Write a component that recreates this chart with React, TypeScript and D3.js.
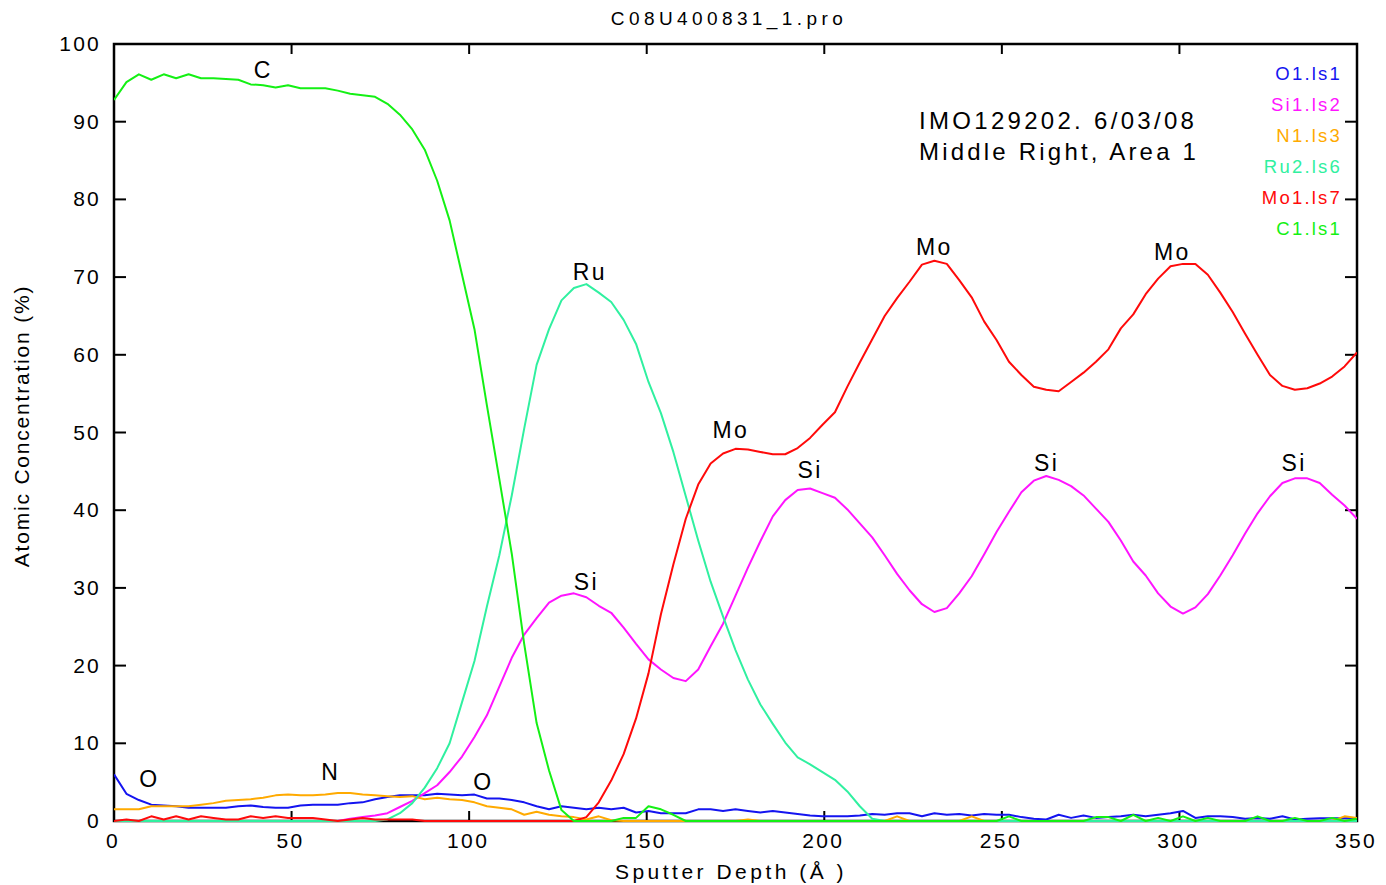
import React from "react";
import * as d3 from "d3";

const depth = [
  0, 3.5, 7, 10.5, 14, 17.5, 21, 24.5, 28, 31.5,
  35, 38.5, 42, 45.5, 49, 52.5, 56, 59.5, 63, 66.5,
  70, 73.5, 77, 80.5, 84, 87.5, 91, 94.5, 98, 101.5,
  105, 108.5, 112, 115.5, 119, 122.5, 126, 129.5, 133, 136.5,
  140, 143.5, 147, 150.5, 154, 157.5, 161, 164.5, 168, 171.5,
  175, 178.5, 182, 185.5, 189, 192.5, 196, 199.5, 203, 206.5,
  210, 213.5, 217, 220.5, 224, 227.5, 231, 234.5, 238, 241.5,
  245, 248.5, 252, 255.5, 259, 262.5, 266, 269.5, 273, 276.5,
  280, 283.5, 287, 290.5, 294, 297.5, 301, 304.5, 308, 311.5,
  315, 318.5, 322, 325.5, 329, 332.5, 336, 339.5, 343, 346.5, 350,
];

const oValues = [
  6.0, 3.5, 2.7, 2.1, 2.0, 1.9, 1.7, 1.7, 1.7, 1.7,
  1.9, 2.0, 1.8, 1.7, 1.7, 2.0, 2.1, 2.1, 2.1, 2.3,
  2.4, 2.8, 3.1, 3.3, 3.3, 3.3, 3.5, 3.4, 3.3, 3.4,
  2.9, 2.9, 2.7, 2.4, 1.9, 1.5, 1.9, 1.7, 1.5, 1.7,
  1.5, 1.7, 1.1, 1.3, 1.0, 1.0, 1.0, 1.5, 1.5, 1.3,
  1.5, 1.3, 1.1, 1.3, 1.1, 0.9, 0.7, 0.6, 0.6, 0.6,
  0.7, 0.9, 0.8, 1.0, 1.0, 0.6, 1.0, 0.8, 0.9, 0.7,
  0.9, 0.8, 0.8, 0.5, 0.3, 0.2, 0.8, 0.4, 0.7, 0.4,
  0.5, 0.6, 0.8, 0.6, 0.8, 1.0, 1.3, 0.4, 0.6, 0.6,
  0.5, 0.3, 0.4, 0.3, 0.6, 0.2, 0.3, 0.35, 0.35, 0.35, 0.35,
];

const siValues = [
  0, 0, 0, 0, 0, 0, 0, 0, 0, 0,
  0, 0, 0, 0, 0, 0, 0, 0, 0, 0.3,
  0.5, 0.7, 1.0, 1.8, 2.6, 3.6, 4.6, 6.3, 8.3, 10.8,
  13.6, 17.3, 21.0, 24.0, 26.1, 28.1, 29.0, 29.3, 28.8, 27.7,
  26.8, 24.9, 22.8, 20.8, 19.5, 18.4, 18.0, 19.5, 22.5, 25.4,
  29.0, 32.6, 36.0, 39.2, 41.3, 42.6, 42.8, 42.2, 41.6, 40.1,
  38.3, 36.5, 34.2, 31.8, 29.7, 27.9, 26.9, 27.4, 29.3, 31.5,
  34.3, 37.2, 39.8, 42.3, 43.8, 44.4, 43.9, 43.1, 41.9, 40.2,
  38.5, 36.1, 33.4, 31.6, 29.3, 27.6, 26.7, 27.5, 29.2, 31.6,
  34.2, 37.0, 39.6, 41.8, 43.5, 44.1, 44.1, 43.5, 42.0, 40.6, 38.9,
];

const nValues = [
  1.5, 1.5, 1.5, 1.9, 1.9, 1.9, 1.9, 2.1, 2.3, 2.6,
  2.7, 2.8, 3.0, 3.3, 3.4, 3.3, 3.3, 3.4, 3.6, 3.6,
  3.4, 3.3, 3.2, 3.1, 3.2, 2.8, 3.0, 2.8, 2.7, 2.4,
  1.9, 1.7, 1.5, 0.8, 1.2, 0.8, 0.6, 0.5, 0.2, 0.6,
  0.1, 0, 0, 0, 0, 0, 0, 0, 0, 0,
  0, 0.2, 0, 0, 0, 0, 0, 0, 0, 0,
  0, 0, 0, 0.6, 0, 0, 0, 0, 0, 0.6,
  0, 0, 0, 0, 0, 0, 0, 0, 0, 0,
  0, 0, 0, 0, 0, 0, 0, 0, 0, 0,
  0, 0, 0, 0, 0, 0, 0, 0, 0, 0.6, 0.4,
];

const ruValues = [
  0, 0, 0, 0, 0, 0, 0, 0, 0, 0,
  0, 0, 0, 0, 0, 0, 0, 0, 0, 0,
  0, 0, 0.2, 1.0, 2.3, 4.3, 6.8, 10.0, 15.3, 20.6,
  27.6, 34.2, 41.9, 50.5, 58.7, 63.3, 67.0, 68.6, 69.1, 68.0,
  66.8, 64.5, 61.4, 56.5, 52.5, 47.5, 41.8, 36.1, 30.8, 26.3,
  22.0, 18.2, 15.0, 12.5, 10.1, 8.2, 7.3, 6.3, 5.3, 3.8,
  1.9, 0.3, 0, 0, 0, 0, 0, 0, 0, 0,
  0, 0, 0, 0, 0, 0, 0, 0, 0, 0,
  0, 0, 0, 0, 0, 0, 0, 0, 0, 0,
  0, 0, 0, 0, 0, 0, 0, 0, 0, 0, 0,
];

const moValues = [
  0, 0.2, 0, 0.6, 0.2, 0.6, 0.2, 0.6, 0.4, 0.2,
  0.2, 0.6, 0.4, 0.6, 0.4, 0.4, 0.4, 0.2, 0, 0.2,
  0.4, 0.2, 0.2, 0.2, 0.2, 0, 0, 0, 0, 0,
  0, 0, 0, 0, 0, 0, 0, 0, 0.5, 2.4,
  5.2, 8.6, 13.2, 19.0, 26.6, 33.0, 38.9, 43.3, 46.0, 47.3,
  47.9, 47.8, 47.5, 47.2, 47.2, 48.0, 49.3, 51.0, 52.6, 55.9,
  59.0, 62.0, 65.0, 67.3, 69.4, 71.6, 72.1, 71.7, 69.6, 67.4,
  64.3, 61.9, 59.1, 57.4, 55.9, 55.5, 55.3, 56.5, 57.7, 59.1,
  60.7, 63.4, 65.2, 67.8, 69.8, 71.4, 71.7, 71.7, 70.3, 68.0,
  65.5, 62.7, 60.0, 57.4, 56.0, 55.5, 55.7, 56.3, 57.2, 58.5, 60.3,
];

const cValues = [
  92.8, 95.1, 96.1, 95.4, 96.1, 95.6, 96.1, 95.6, 95.6, 95.5,
  95.4, 94.8, 94.7, 94.4, 94.7, 94.3, 94.3, 94.3, 94.0, 93.6,
  93.4, 93.2, 92.3, 90.9, 89.0, 86.4, 82.4, 77.3, 70.3, 63.3,
  53.5, 44.0, 34.4, 22.8, 12.6, 6.5, 1.4, 0, 0, 0,
  0, 0.4, 0.4, 1.9, 1.5, 0.8, 0, 0, 0, 0,
  0, 0, 0, 0, 0, 0, 0, 0, 0, 0,
  0, 0, 0, 0, 0, 0, 0, 0, 0, 0,
  0, 0, 0.6, 0, 0, 0, 0, 0, 0, 0.5,
  0.5, 0, 0.8, 0, 0.4, 0, 0.6, 0, 0.4, 0,
  0, 0, 0.6, 0, 0, 0.4, 0, 0, 0.4, 0, 0.3,
];

const seriesNames = ["O1.ls1", "Si1.ls2", "N1.ls3", "Ru2.ls6", "Mo1.ls7", "C1.ls1"];
const seriesColors = ["#1414f0", "#ff14ff", "#ffaa00", "#30f0a0", "#ff0a0a", "#14f014"];
const seriesValues = [oValues, siValues, nValues, ruValues, moValues, cValues];

const xTicks = [0, 50, 100, 150, 200, 250, 300, 350];
const yTicks = [0, 10, 20, 30, 40, 50, 60, 70, 80, 90, 100];

// peak annotations: [label, depth, value at text baseline]
const peakLabels: [string, number, number][] = [
  ["C", 42, 95.6],
  ["Ru", 134, 69.6],
  ["Si", 133, 29.7],
  ["Mo", 173.7, 49.3],
  ["Si", 196, 44.1],
  ["Mo", 231, 72.8],
  ["Mo", 298, 72.2],
  ["Si", 262.6, 45.0],
  ["Si", 332.3, 45.0],
  ["O", 10, 4.4],
  ["N", 61, 5.3],
  ["O", 104, 4.0],
];

const W = 1386;
const H = 885;
const left = 114;
const right = 1357;
const top = 44;
const bottom = 821;

export default function App() {
  const x = d3.scaleLinear().domain([0, 350]).range([left, right]);
  const y = d3.scaleLinear().domain([0, 100]).range([bottom, top]);
  const line = d3
    .line<number>()
    .x((_, i) => x(depth[i]))
    .y((d) => y(d));

  const font = "'Liberation Sans', Arial, sans-serif";

  return (
    <svg
      width={W}
      height={H}
      style={{ position: "absolute", left: 0, top: 0, background: "#fff" }}
      fontFamily={font}
    >
      <rect x={0} y={0} width={W} height={H} fill="#fff" />
      <defs>
        <clipPath id="plotClip">
          <rect x={left} y={top - 2} width={right - left} height={bottom - top + 4} />
        </clipPath>
      </defs>

      {/* title */}
      <text x={729} y={25} textAnchor="middle" fontSize={19} letterSpacing={4.4} fill="#000">
        C08U400831_1.pro
      </text>

      {/* frame */}
      <rect x={left} y={top} width={right - left} height={bottom - top} fill="none" stroke="#000" strokeWidth={2.5} />

      {/* x ticks */}
      {xTicks.map((t) => (
        <g key={"xt" + t}>
          {t > 0 && t < 350 && (
            <>
              <line x1={x(t)} x2={x(t)} y1={bottom} y2={bottom - 10} stroke="#000" strokeWidth={2} />
              <line x1={x(t)} x2={x(t)} y1={top} y2={top + 10} stroke="#000" strokeWidth={2} />
            </>
          )}
          <text x={x(t) - 1} y={848} textAnchor="middle" fontSize={21} letterSpacing={2.4} fill="#000">
            {t}
          </text>
        </g>
      ))}

      {/* y ticks */}
      {yTicks.map((t) => (
        <g key={"yt" + t}>
          {t > 0 && t < 100 && (
            <>
              <line x1={left} x2={left + 12} y1={y(t)} y2={y(t)} stroke="#000" strokeWidth={2} />
              <line x1={right} x2={right - 12} y1={y(t)} y2={y(t)} stroke="#000" strokeWidth={2} />
            </>
          )}
          <text x={101} y={y(t) + 7} textAnchor="end" fontSize={21} letterSpacing={2.2} fill="#000">
            {t}
          </text>
        </g>
      ))}

      {/* axis labels */}
      <text x={731} y={879} textAnchor="middle" fontSize={21} letterSpacing={3.5} fill="#000">
        Sputter Depth (Å )
      </text>
      <text
        transform="translate(29,426) rotate(-90)"
        textAnchor="middle"
        fontSize={21}
        letterSpacing={1.8}
        fill="#000"
      >
        Atomic Concentration (%)
      </text>

      {/* series lines */}
      <g clipPath="url(#plotClip)">
        {seriesValues.map((vals, k) => (
          <path key={seriesNames[k]} d={line(vals) || ""} fill="none" stroke={seriesColors[k]} strokeWidth={2} strokeLinejoin="round" />
        ))}
      </g>

      {/* peak labels */}
      {peakLabels.map(([lab, d, v], i) => (
        <text key={"pk" + i} x={x(d)} y={y(v)} textAnchor="middle" fontSize={23} letterSpacing={2.4} fill="#000">
          {lab}
        </text>
      ))}

      {/* sample annotation */}
      <text x={919} y={129} fontSize={24} letterSpacing={3.3} fill="#000">
        IMO129202. 6/03/08
      </text>
      <text x={919} y={160} fontSize={24} letterSpacing={3.2} fill="#000">
        Middle Right, Area 1
      </text>

      {/* legend */}
      {seriesNames.map((n, k) => (
        <text key={"lg" + n} x={1342} y={80 + k * 31} textAnchor="end" fontSize={18.5} letterSpacing={2.2} fill={seriesColors[k]}>
          {n}
        </text>
      ))}
    </svg>
  );
}
